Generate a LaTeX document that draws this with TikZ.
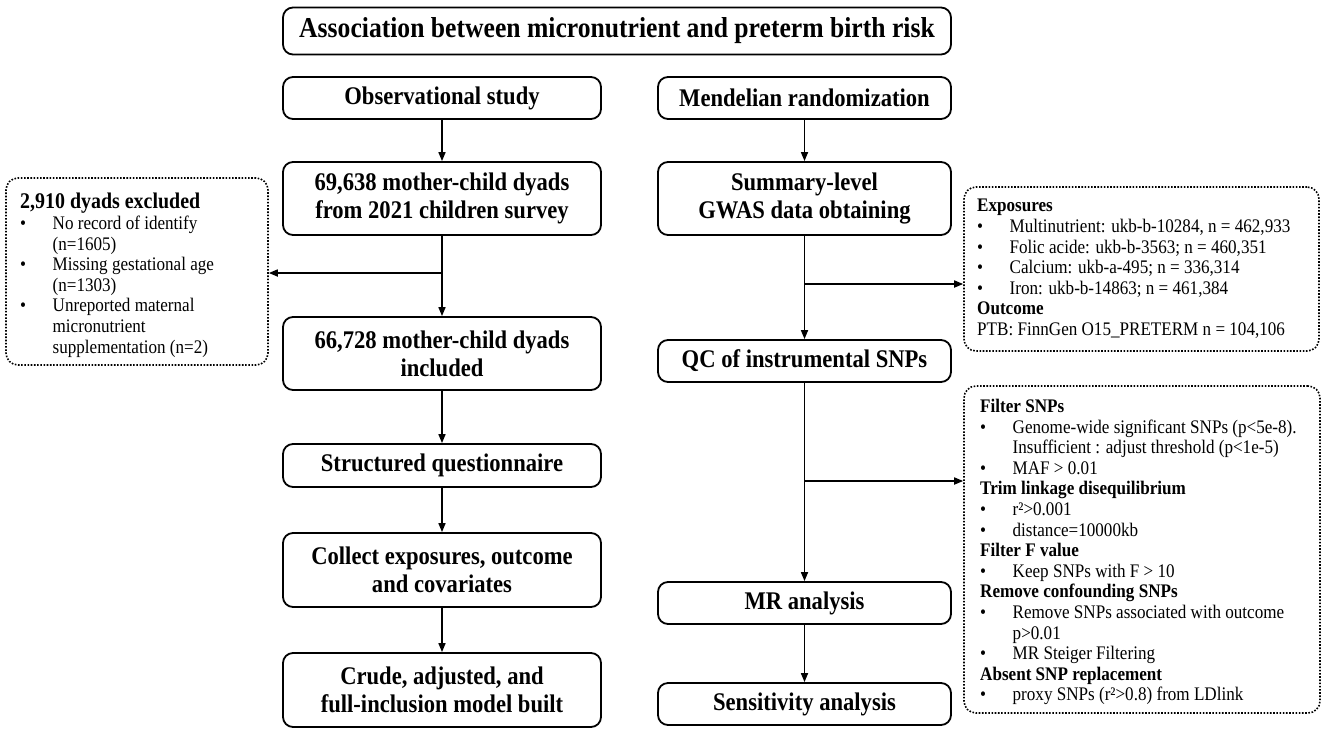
\documentclass[tikz,border=0pt]{standalone}
\usepackage{fontspec}
\setmainfont[FakeStretch=0.89]{Liberation Serif}
\usetikzlibrary{arrows.meta}
\newcommand{\bl}{\makebox[32.5pt][l]{•}}
\newcommand{\ind}{\hspace*{32.5pt}}
\begin{document}
\begin{tikzpicture}[x=1pt,y=-1pt,
  box/.style={draw, line width=1.8pt, rounded corners=10pt, align=center,
    font=\bfseries\fontsize{25.4}{28.3}\selectfont, inner sep=0pt},
  dbox/.style={draw, line width=1.6pt, dash pattern=on 1.6pt off 1.6pt,
    rounded corners=12pt, inner sep=0pt},
  txt/.style={anchor=north west, inner sep=0pt, align=left,
    font=\fontsize{19.2}{20.6}\selectfont},
  arr/.style={line width=1.6pt, -{Triangle[length=9pt,width=7pt]}}]
\useasboundingbox (0,0) rectangle (1325,732);

% main boxes
\node[box, font=\bfseries\fontsize{28.8}{28}\selectfont, minimum width=668pt, minimum height=47pt] (title) at (617,31) {Association between micronutrient and preterm birth risk};
\node[box, minimum width=318pt, minimum height=42pt] (obs) at (442,98) {Observational study};
\node[box, minimum width=293pt, minimum height=42pt] (mr) at (804.5,98) {Mendelian randomization};
\node[box, minimum width=318pt, minimum height=73pt] (n1) at (442,198.5) {69,638 mother-child dyads\\from 2021 children survey};
\node[box, minimum width=293pt, minimum height=73pt] (gw) at (804.5,198.5) {Summary-level\\GWAS data obtaining};
\node[box, minimum width=318pt, minimum height=73pt] (n2) at (442,353.5) {66,728 mother-child dyads\\included};
\node[box, minimum width=293pt, minimum height=42pt] (qc) at (804.5,361) {QC of instrumental SNPs};
\node[box, minimum width=318pt, minimum height=43pt] (sq) at (442,465.5) {Structured questionnaire};
\node[box, minimum width=318pt, minimum height=74pt] (col) at (442,570) {Collect exposures, outcome\\and covariates};
\node[box, minimum width=318pt, minimum height=74pt] (crude) at (442,690) {Crude, adjusted, and\\full-inclusion model built};
\node[box, minimum width=293pt, minimum height=42pt] (mra) at (804.5,603) {MR analysis};
\node[box, minimum width=293pt, minimum height=42pt] (sens) at (804.5,704) {Sensitivity analysis};

% dotted boxes
\node[dbox, minimum width=262pt, minimum height=187pt] (exc) at (137,271.5) {};
\node[dbox, minimum width=355pt, minimum height=164pt] (expo) at (1141.5,269) {};
\node[dbox, minimum width=356pt, minimum height=327pt] (filt) at (1142,549.5) {};

\node[txt] (exct) at (20,192) {\rule{0pt}{16pt}{\bfseries\fontsize{22.4}{20.6}\selectfont 2,910 dyads excluded}\\[0.7pt]
\bl No record of identify\\
\ind (n=1605)\\
\bl Missing gestational age\\
\ind (n=1303)\\
\bl Unreported maternal\\
\ind micronutrient\\
\ind supplementation (n=2)};

\node[txt] (expot) at (977,196.7) {\rule{0pt}{15pt}\textbf{Exposures}\\
\bl Multinutrient: ukb-b-10284, n = 462,933\\
\bl Folic acide: ukb-b-3563; n = 460,351\\
\bl Calcium: ukb-a-495; n = 336,314\\
\bl Iron: ukb-b-14863; n = 461,384\\
\textbf{Outcome}\\
PTB: FinnGen O15\_PRETERM n = 104,106};

\node[txt] (filtt) at (980,397.3) {\rule{0pt}{15pt}\textbf{Filter SNPs}\\
\bl Genome-wide significant SNPs (p<5e-8).\\
\ind Insufficient : adjust threshold (p<1e-5)\\
\bl MAF > 0.01\\
\textbf{Trim linkage disequilibrium}\\
\bl r²>0.001\\
\bl distance=10000kb\\
\textbf{Filter F value}\\
\bl Keep SNPs with F > 10\\
\textbf{Remove confounding SNPs}\\
\bl Remove SNPs associated with outcome\\
\ind p>0.01\\
\bl MR Steiger Filtering\\
\textbf{Absent SNP replacement}\\
\bl proxy SNPs (r²>0.8) from LDlink};

% connectors
\coordinate (j1) at (442,273);
\coordinate (j2) at (804.5,284);
\coordinate (j3) at (804.5,481);
\draw[arr] (obs.south) -- (n1.north);
\draw[arr] (n1.south) -- (n2.north);
\draw[arr] (j1) -- (j1 -| exc.east);
\draw[arr] (n2.south) -- (sq.north);
\draw[arr] (sq.south) -- (col.north);
\draw[arr] (col.south) -- (crude.north);
\draw[arr] (mr.south) -- (gw.north);
\draw[arr] (gw.south) -- (qc.north);
\draw[arr] (j2) -- (j2 -| expo.west);
\draw[arr] (qc.south) -- (mra.north);
\draw[arr] (j3) -- (j3 -| filt.west);
\draw[arr] (mra.south) -- (sens.north);
\end{tikzpicture}
\end{document}
